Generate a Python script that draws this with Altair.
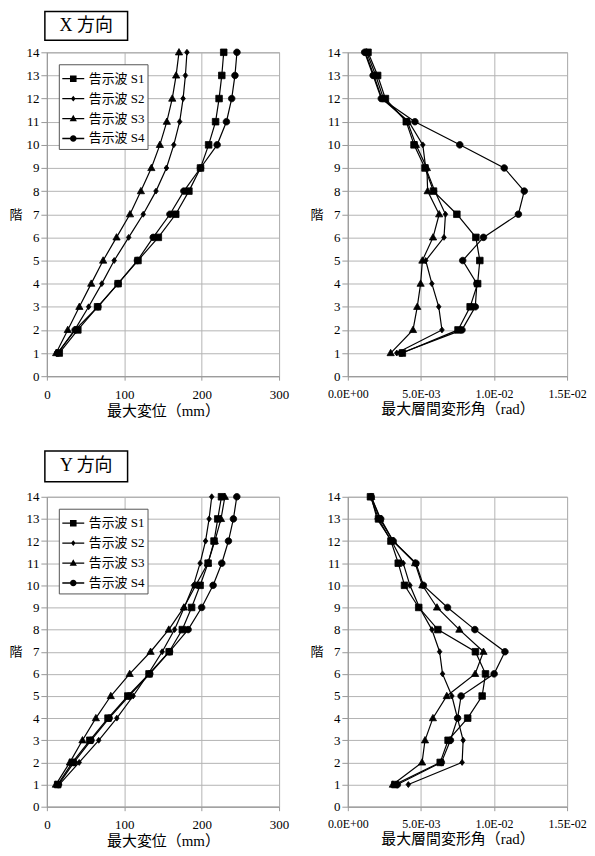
import altair as alt
import pandas as pd

FONT = "Liberation Serif, Noto Sans CJK JP"

floors = list(range(1, 15))
series_names = ["告示波 S1", "告示波 S2", "告示波 S3", "告示波 S4"]
panel_titles = ["X 方向", "Y 方向"]
y_title = "階"
disp_title = "最大変位（mm）"
drift_title = "最大層間変形角（rad）"

# X direction: max displacement (mm), floors 1..14
x_disp_s1 = [16, 40, 65.5, 92, 117.7, 144, 166.5, 183.5, 198.5, 209, 218, 222.5, 226, 228.5]
x_disp_s2 = [14, 36, 54, 71, 87, 105.7, 124.5, 141, 154.5, 164, 171.6, 176, 179, 181]
x_disp_s3 = [12, 27, 42, 57.3, 72.7, 90, 107.4, 121.5, 135, 146, 155, 162, 167, 170.7]
x_disp_s4 = [14, 36.5, 66, 92, 117, 137.4, 159, 177, 198.5, 220, 232, 238.8, 243, 245.6]

# X direction: max story drift angle (rad)
x_drift_s1 = [0.00373, 0.00754, 0.00837, 0.00888, 0.00903, 0.00876, 0.00746, 0.00586, 0.00528, 0.00453, 0.0040, 0.00257, 0.00204, 0.00138]
x_drift_s2 = [0.00335, 0.00644, 0.00622, 0.00575, 0.00533, 0.00658, 0.00668, 0.00595, 0.00533, 0.00513, 0.00417, 0.00233, 0.00178, 0.0012]
x_drift_s3 = [0.00293, 0.00446, 0.00475, 0.00498, 0.0051, 0.00583, 0.00625, 0.00546, 0.00541, 0.00466, 0.00408, 0.00244, 0.00191, 0.00129]
x_drift_s4 = [0.00366, 0.00781, 0.00872, 0.00883, 0.00786, 0.00928, 0.01167, 0.01207, 0.0107, 0.00766, 0.00459, 0.00229, 0.00173, 0.00115]

# Y direction: max displacement (mm)
y_disp_s1 = [14, 33, 55.5, 79, 104.6, 132, 158, 175, 187, 198, 208.3, 216, 220.8, 225.6]
y_disp_s2 = [16, 41.8, 67, 90.4, 111.5, 131, 149, 165, 177.5, 189.4, 198, 205, 209.6, 213]
y_disp_s3 = [11.6, 29.7, 46, 63.3, 82.6, 107, 134, 157.5, 177, 192.4, 208, 217, 225, 230]
y_disp_s4 = [15, 35, 57, 80.5, 106, 133, 158.5, 182.5, 200, 214.8, 226, 234.6, 241, 245.4]

# Y direction: max story drift angle (rad)
y_drift_s1 = [0.00322, 0.00632, 0.00686, 0.0082, 0.00919, 0.00942, 0.00873, 0.00616, 0.00485, 0.00388, 0.00345, 0.00295, 0.0021, 0.00155]
y_drift_s2 = [0.00414, 0.00782, 0.00789, 0.0075, 0.00712, 0.00648, 0.00628, 0.00575, 0.0049, 0.00425, 0.00379, 0.0030, 0.0020, 0.0016]
y_drift_s3 = [0.00308, 0.00508, 0.00528, 0.00582, 0.00677, 0.00871, 0.00928, 0.00763, 0.0061, 0.0051, 0.0046, 0.0031, 0.0022, 0.0016]
y_drift_s4 = [0.00339, 0.0064, 0.00702, 0.00751, 0.00775, 0.01001, 0.01075, 0.00869, 0.00682, 0.00517, 0.00466, 0.0031, 0.00225, 0.0016]

disp_ticks = [0, 100, 200, 300]
drift_ticks = [0, 0.005, 0.01, 0.015]
floor_ticks = list(range(0, 15))

# marker shapes (unit box -1..1), and legend symbols = line segments + marker
m_square = "M-0.3,-0.3L0.3,-0.3L0.3,0.3L-0.3,0.3Z"
m_diamond = "M0,-0.27L0.21,0L0,0.27L-0.21,0Z"
m_triangle = "M0,-0.34L0.33,0.24L-0.33,0.24Z"
m_circle = "M0.3,0A0.3,0.3,0,1,1,-0.3,0A0.3,0.3,0,1,1,0.3,0Z"
marker_paths = [m_square, m_diamond, m_triangle, m_circle]
seg = "M-1,-0.06L-0.15,-0.06L-0.15,0.06L-1,0.06ZM0.15,-0.06L1,-0.06L1,0.06L0.15,0.06Z"
legend_paths = [seg + p for p in marker_paths]


def make_df(series_lists):
    rows = []
    for name, vals in zip(series_names, series_lists):
        for f, v in zip(floors, vals):
            rows.append({"floor": f, "value": v, "series": name})
    return pd.DataFrame(rows)


def panel(df, xdom, xvals, xtitle, w, h, label_expr=None, legend=False,
          box_text=None, box_y=(-43, -12), xlabel_size=13):
    ax_kwargs = dict(values=xvals, title=xtitle, grid=True, tickSize=4,
                     labelPadding=8, labelFlush=False, titlePadding=2,
                     labelFontSize=xlabel_size)
    if label_expr:
        ax_kwargs["labelExpr"] = label_expr
    xenc = alt.X("value:Q", scale=alt.Scale(domain=xdom, nice=False),
                 axis=alt.Axis(**ax_kwargs))
    yenc = alt.Y("floor:Q", scale=alt.Scale(domain=[0, 14], nice=False),
                 axis=alt.Axis(values=floor_ticks, title=y_title, titleAngle=0,
                               titleAlign="right", titleBaseline="middle",
                               titlePadding=4, titleFontSize=13, titleColor="black",
                               labelFontSize=13,
                               tickSize=6, labelPadding=2, grid=True))
    base = alt.Chart(df)
    lines = base.mark_line(color="black", strokeWidth=1.2).encode(
        x=xenc, y=yenc, detail="series:N", order=alt.Order("floor:Q"))
    pts = base.mark_point(fill="black", stroke="black", strokeWidth=0.8,
                          opacity=1, size=484).encode(
        x=xenc, y=yenc,
        shape=alt.Shape("series:N",
                        scale=alt.Scale(domain=series_names, range=marker_paths),
                        legend=None))
    layers = [lines, pts]
    if legend:
        leg = base.transform_filter("datum.floor < 0").mark_point(
            fill="black", stroke="black", strokeWidth=0.8, opacity=1, size=484
        ).encode(
            x=xenc, y=yenc,
            shape=alt.Shape("series:N",
                            scale=alt.Scale(domain=series_names, range=legend_paths),
                            legend=alt.Legend(title=None, orient="top-left", offset=12,
                                              padding=3, rowPadding=1,
                                              fillColor="white", strokeColor="#555",
                                              symbolSize=484, symbolStrokeWidth=0.8,
                                              symbolFillColor="black",
                                              symbolStrokeColor="black",
                                              labelFont=FONT, labelFontSize=13,
                                              labelOffset=4, labelColor="black")))
        layers.append(leg)
    if box_text:
        tdf = pd.DataFrame({"t": [box_text]})
        rect = alt.Chart(tdf).mark_rect(fill="white", stroke="black", strokeWidth=1.5).encode(
            x=alt.value(-2), x2=alt.value(81), y=alt.value(box_y[0]), y2=alt.value(box_y[1]))
        txt = alt.Chart(tdf).mark_text(font=FONT, fontSize=18, color="black",
                                       align="center", baseline="middle").encode(
            x=alt.value(39.5), y=alt.value((box_y[0] + box_y[1]) / 2), text="t:N")
        layers += [rect, txt]
    return alt.layer(*layers).resolve_scale(shape="independent").properties(width=w, height=h)


sci_expr = ("replace(replace(replace(format(datum.value, '.1e'), 'e-', 'E-0'), "
            "'e\u2212', 'E-0'), 'e+', 'E+0')")

tl = panel(make_df([x_disp_s1, x_disp_s2, x_disp_s3, x_disp_s4]), [0, 300], disp_ticks,
           disp_title, 233, 325, legend=True, box_text=panel_titles[0], box_y=(-41, -12))
tr = panel(make_df([x_drift_s1, x_drift_s2, x_drift_s3, x_drift_s4]), [0, 0.015], drift_ticks,
           drift_title, 220, 325, label_expr=sci_expr, xlabel_size=12)
bl = panel(make_df([y_disp_s1, y_disp_s2, y_disp_s3, y_disp_s4]), [0, 300], disp_ticks,
           disp_title, 233, 311, legend=True, box_text=panel_titles[1], box_y=(-46, -15))
br = panel(make_df([y_drift_s1, y_drift_s2, y_drift_s3, y_drift_s4]), [0, 0.015], drift_ticks,
           drift_title, 220, 311, label_expr=sci_expr, xlabel_size=12)

top = alt.hconcat(tl, tr, spacing=69, bounds="flush")
bottom = alt.hconcat(bl, br, spacing=69, bounds="flush")

chart = alt.vconcat(top, bottom, spacing=30).properties(
    padding=0
).configure_view(
    stroke="#999", strokeWidth=1
).configure_axis(
    domainColor="#999", gridColor="#b4b4b4", tickColor="#999",
    labelFont=FONT, labelFontSize=12, labelColor="black",
    titleFont=FONT, titleFontSize=15, titleFontWeight="normal", titleColor="black"
)

chart.save("out.html", embed_options={"renderer": "svg", "actions": False})
